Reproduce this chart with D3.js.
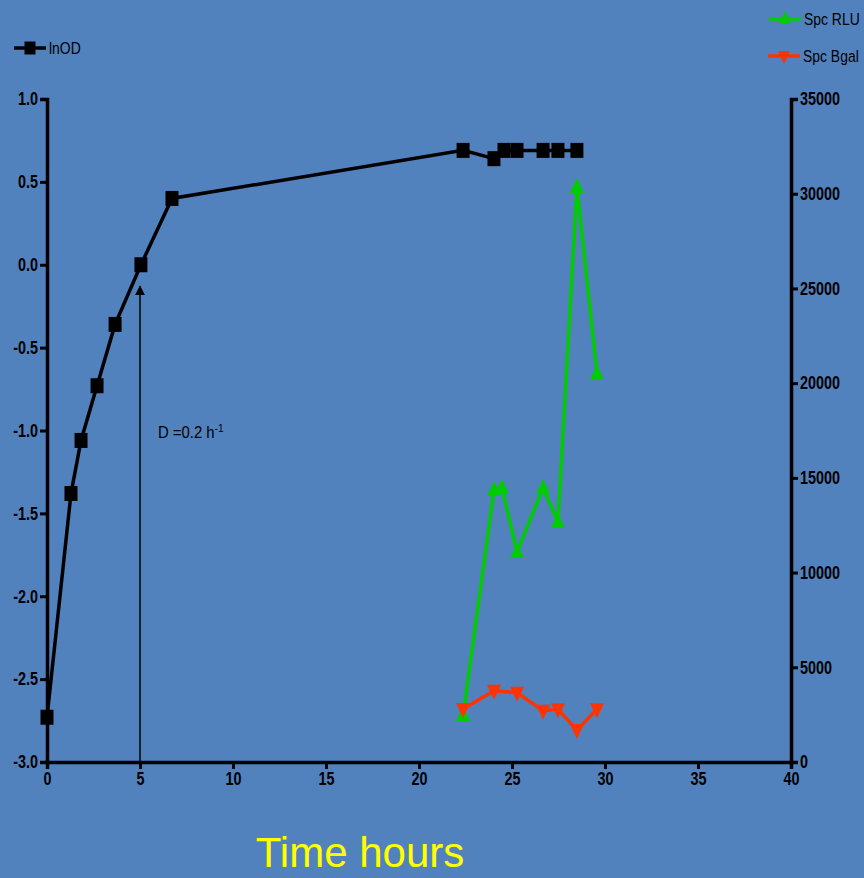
<!DOCTYPE html>
<html>
<head>
<meta charset="utf-8">
<script src="https://cdn.jsdelivr.net/npm/d3@7"></script>
<style>
  body { margin: 0; background: #5282BE; }
  svg { display: block; }
  text { font-family: "Liberation Sans", Arial, sans-serif; }
</style>
</head>
<body>
<svg id="chart" width="864" height="878"></svg>
<script>
// lnOD (left axis)
var odTime = [0, 1.29, 1.83, 2.69, 3.66, 5.05, 6.72, 22.37, 24.03, 24.57, 25.27, 26.67, 27.47, 28.49];
var lnOD = [-2.73, -1.38, -1.06, -0.73, -0.36, 0.0, 0.40, 0.69, 0.64, 0.69, 0.69, 0.69, 0.69, 0.69];

// specific activities (right axis)
var spcTime = [22.37, 24.03, 24.46, 25.27, 26.67, 27.47, 28.49, 29.57];
var spcRLU = [2480, 14360, 14470, 11090, 14470, 12670, 30360, 20490];
var bgalTime = [22.37, 24.03, 25.27, 26.67, 27.47, 28.49, 29.57];
var spcBgal = [2800, 3760, 3660, 2710, 2780, 1690, 2780];

var xTicks = [0, 5, 10, 15, 20, 25, 30, 35, 40];
var yLeftTicks = [1.0, 0.5, 0.0, -0.5, -1.0, -1.5, -2.0, -2.5, -3.0];
var yRightTicks = [0, 5000, 10000, 15000, 20000, 25000, 30000, 35000];

var svg = d3.select("#chart");

var x = d3.scaleLinear().domain([0, 40]).range([47, 791]);
var yL = d3.scaleLinear().domain([-3, 1]).range([762, 99]);
var yR = d3.scaleLinear().domain([0, 35000]).range([762, 99]);

// plain hyphen instead of unicode minus
var fmt1 = d => d.toFixed(1);

var xAxis = d3.axisBottom(x).tickValues(xTicks).tickFormat(d => String(d)).tickSizeOuter(0).tickSize(7).tickPadding(3);
var leftAxis = d3.axisLeft(yL).tickValues(yLeftTicks).tickFormat(fmt1).tickSizeOuter(0).tickSize(7).tickPadding(2);
var rightAxis = d3.axisRight(yR).tickValues(yRightTicks).tickFormat(d => String(d)).tickSizeOuter(0).tickSize(7).tickPadding(2);

// narrow bold labels (squeeze horizontally)
var squeeze = 0.8;
function styleAxis(g) {
  g.select(".domain").attr("stroke", "#000").attr("stroke-width", 3.5);
  g.selectAll(".tick line").attr("stroke", "#000").attr("stroke-width", 3);
  g.selectAll(".tick text")
    .attr("fill", "#000")
    .style("font-size", "18px")
    .style("font-weight", "bold")
    .attr("x", function() { return (+d3.select(this).attr("x") || 0) / squeeze; })
    .attr("transform", "scale(" + squeeze + ",1)");
}

svg.append("g").attr("transform", "translate(0,762)").call(xAxis).call(styleAxis);
svg.append("g").attr("transform", "translate(47,0)").call(leftAxis).call(styleAxis);
svg.append("g").attr("transform", "translate(791,0)").call(rightAxis).call(styleAxis);

// arrow at t = 5 h
svg.append("defs").append("marker")
  .attr("id", "arrowHead")
  .attr("viewBox", "0 0 10 10")
  .attr("refX", 9).attr("refY", 5)
  .attr("markerWidth", 10).attr("markerHeight", 12)
  .attr("markerUnits", "userSpaceOnUse")
  .attr("orient", "auto")
  .append("path").attr("d", "M0,0 L10,5 L0,10 Z").attr("fill", "#000");

svg.append("line")
  .attr("x1", x(5)).attr("x2", x(5))
  .attr("y1", yL(-3)).attr("y2", yL(-0.13))
  .attr("stroke", "#000").attr("stroke-width", 1.5)
  .attr("marker-end", "url(#arrowHead)");

var ann = svg.append("text").attr("x", 158).attr("y", 438).attr("fill", "#000").style("font-size", "16px")
  .attr("transform", "translate(158,0) scale(0.93,1) translate(-158,0)");
ann.append("tspan").text("D =0.2 h");
ann.append("tspan").attr("dy", -6).style("font-size", "11px").text("-1");

// series
function drawSeries(xs, ys, yScale, color, shape) {
  var pts = xs.map(function(t, i) { return [t, ys[i]]; });
  svg.append("path")
    .datum(pts)
    .attr("fill", "none")
    .attr("stroke", color)
    .attr("stroke-width", 3.5)
    .attr("d", d3.line().x(d => x(d[0])).y(d => yScale(d[1])));
  var marks = svg.append("g").selectAll("path")
    .data(pts)
    .enter().append("path")
    .attr("fill", color);
  if (shape === "square") {
    marks.attr("d", "M-6.5,-7.5H6.5V7.5H-6.5Z");
  } else {
    marks.attr("d", shape === "up" ? "M0,-9L7,6H-7Z" : "M0,9L7,-6H-7Z");
  }
  marks.attr("transform", d => "translate(" + x(d[0]) + "," + yScale(d[1]) + ")");
}

drawSeries(spcTime, spcRLU, yR, "#00CC00", "up");
drawSeries(bgalTime, spcBgal, yR, "#FF3300", "down");
drawSeries(odTime, lnOD, yL, "#000000", "square");

// legends
function legendItem(lx, ly, color, shape, label) {
  svg.append("line").attr("x1", lx).attr("x2", lx + 32).attr("y1", ly).attr("y2", ly)
    .attr("stroke", color).attr("stroke-width", 3.5);
  var d = shape === "square" ? "M-5.5,-6.5H5.5V6.5H-5.5Z" : (shape === "up" ? "M0,-8L6,5H-6Z" : "M0,8L6,-5H-6Z");
  svg.append("path").attr("d", d).attr("fill", color)
    .attr("transform", "translate(" + (lx + 16) + "," + ly + ")");
  var tx = lx + 35;
  svg.append("text").attr("x", tx).attr("y", ly + 6).attr("fill", "#000")
    .style("font-size", "17px")
    .attr("transform", "translate(" + tx + ",0) scale(0.82,1) translate(" + (-tx) + ",0)")
    .text(label);
}
legendItem(14, 48, "#000000", "square", "lnOD");
legendItem(769, 19, "#00CC00", "up", "Spc RLU");
legendItem(768, 56, "#FF3300", "down", "Spc Bgal");

// x title
svg.append("text").attr("x", 360).attr("y", 867).attr("text-anchor", "middle")
  .attr("fill", "#FFFF00").style("font-size", "42px").text("Time hours");
</script>
</body>
</html>
